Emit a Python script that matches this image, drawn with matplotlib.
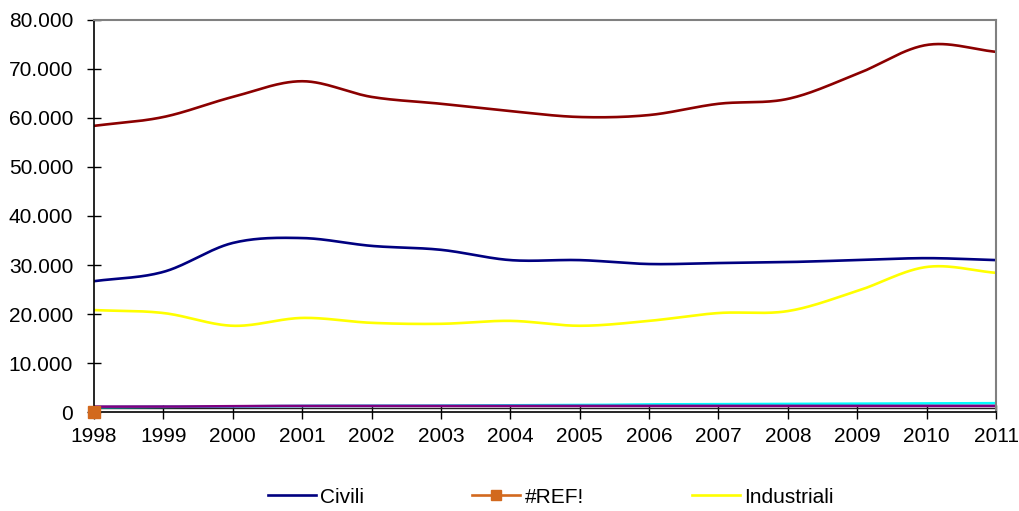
import numpy as np
import matplotlib.pyplot as plt
from matplotlib.ticker import FuncFormatter
from matplotlib.lines import Line2D

plt.rcParams['font.family'] = ['Liberation Sans', 'DejaVu Sans']

anni = [1998, 1999, 2000, 2001, 2002, 2003, 2004, 2005, 2006, 2007, 2008, 2009, 2010, 2011]

totale = [58400, 60200, 64300, 67500, 64300, 62900, 61400, 60200, 60600, 62900, 63900, 69000, 74900, 73500]
civili = [26700, 28600, 34500, 35500, 33900, 33100, 31000, 31000, 30200, 30400, 30600, 31000, 31400, 31000]
industriali = [20800, 20200, 17600, 19200, 18200, 18000, 18600, 17600, 18600, 20200, 20600, 24700, 29600, 28400]
agricoltura = [1000, 1050, 1150, 1250, 1250, 1300, 1350, 1400, 1550, 1600, 1650, 1700, 1750, 1800]
trasporti = [1100, 1100, 1200, 1250, 1250, 1250, 1250, 1250, 1250, 1250, 1250, 1250, 1250, 1250]
altri = [800, 800, 800, 800, 800, 800, 800, 800, 800, 800, 800, 800, 800, 800]
ref_x = [1998]
ref_y = [0]


def smooth(x, y, n=30):
    # Catmull-Rom curve through the points, like the "smoothed line" option
    x = np.asarray(x, float)
    y = np.asarray(y, float)
    px = np.concatenate([[2 * x[0] - x[1]], x, [2 * x[-1] - x[-2]]])
    py = np.concatenate([[2 * y[0] - y[1]], y, [2 * y[-1] - y[-2]]])
    xs, ys = [], []
    t = np.linspace(0, 1, n, endpoint=False)
    for i in range(1, len(px) - 2):
        for p, out in ((px, xs), (py, ys)):
            p0, p1, p2, p3 = p[i - 1], p[i], p[i + 1], p[i + 2]
            out.extend(0.5 * (2 * p1 + (-p0 + p2) * t
                              + (2 * p0 - 5 * p1 + 4 * p2 - p3) * t ** 2
                              + (-p0 + 3 * p1 - 3 * p2 + p3) * t ** 3))
    xs.append(x[-1])
    ys.append(y[-1])
    return xs, ys


fig = plt.figure(figsize=(10.2, 5.11), dpi=100)
ax = fig.add_axes([0.0922, 0.1937, 0.8843, 0.7672])

lw = 1.9
ax.plot(*smooth(anni, altri), color='#202020', lw=1.0)
ax.plot(*smooth(anni, agricoltura), color='#00FFFF', lw=lw)
ax.plot(*smooth(anni, trasporti), color='#800080', lw=lw)
ax.plot(*smooth(anni, industriali), color='#FFFF00', lw=lw)
ax.plot(*smooth(anni, civili), color='#000080', lw=lw)
ax.plot(*smooth(anni, totale), color='#8B0000', lw=lw)
ax.plot(ref_x, ref_y, 's', color='#D2691E', ms=8, clip_on=False, zorder=5)

ax.set_xlim(1998, 2011)
ax.set_ylim(0, 80000)
ax.set_xticks(anni)
ax.set_yticks(np.arange(0, 80001, 10000))
ax.yaxis.set_major_formatter(FuncFormatter(
    lambda v, p: '0' if v == 0 else '{:,.0f}'.format(v / 1000) + '.000'))
ax.tick_params(direction='inout', length=10, width=1, labelsize=15)
ax.tick_params(axis='y', pad=10)
ax.tick_params(axis='x', pad=6)

for s in ('left', 'bottom'):
    ax.spines[s].set_color('black')
    ax.spines[s].set_linewidth(1.2)
for s in ('top', 'right'):
    ax.spines[s].set_color('#808080')
    ax.spines[s].set_linewidth(1.5)

handles = [
    Line2D([], [], color='#000080', lw=lw),
    Line2D([], [], color='#D2691E', lw=lw, marker='s', ms=7),
    Line2D([], [], color='#FFFF00', lw=lw),
]
fig.legend(handles, ['Civili', '#REF!', 'Industriali'], loc='center',
           bbox_to_anchor=(0.54, 0.027), ncol=3, frameon=False, fontsize=15,
           handlelength=2.3, handletextpad=0.2, columnspacing=5.2)

fig.savefig('out.png', dpi=100)
